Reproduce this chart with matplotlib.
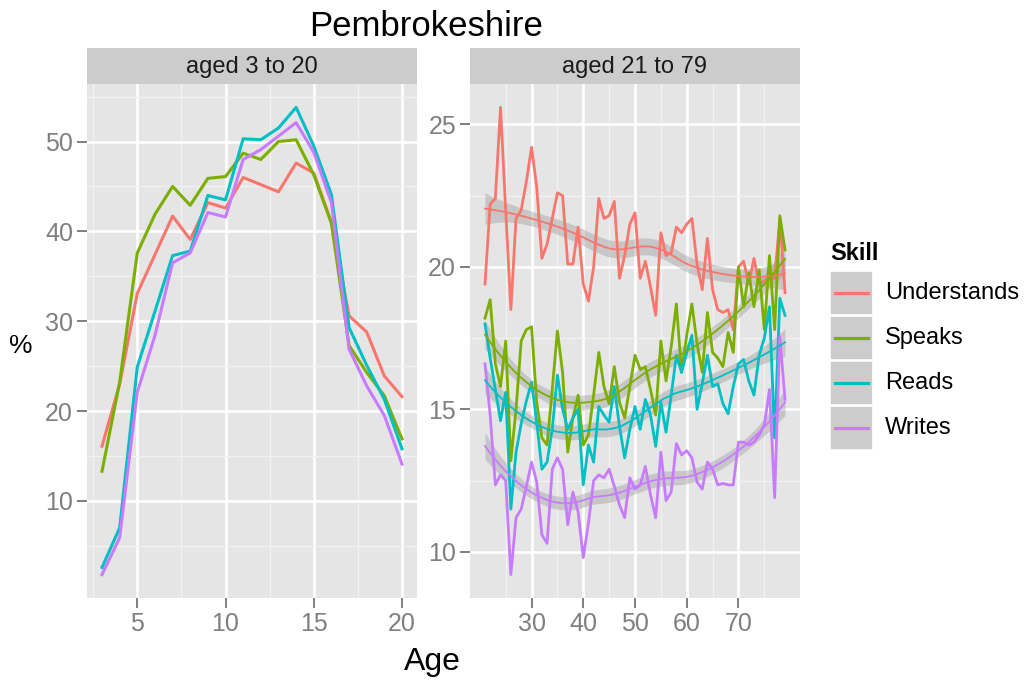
import numpy as np
import matplotlib.pyplot as plt
from matplotlib.patches import Rectangle

plt.rcParams['font.family'] = ['Liberation Sans', 'DejaVu Sans']

skills = ['Understands', 'Speaks', 'Reads', 'Writes']
colours = ['#F8766D', '#7CAE00', '#00BFC4', '#C77CFF']

# aged 3 to 20
young_ages = list(range(3, 21))
young_understands = [16.1, 23.0, 33.1, 37.4, 41.7, 39.1, 43.2, 42.6, 46.0,
                     45.2, 44.4, 47.6, 46.5, 41.0, 30.6, 28.8, 23.9, 21.6]
young_speaks = [13.3, 23.2, 37.6, 41.9, 45.0, 42.9, 45.9, 46.1, 48.7,
                48.0, 50.0, 50.2, 46.3, 40.9, 27.3, 24.3, 21.7, 16.9]
young_reads = [2.6, 7.0, 24.9, 31.1, 37.3, 37.8, 44.0, 43.5, 50.3,
               50.2, 51.5, 53.8, 49.5, 44.1, 29.3, 25.1, 21.3, 15.8]
young_writes = [1.8, 5.9, 22.1, 28.4, 36.5, 37.6, 42.1, 41.6, 48.0,
                49.1, 50.6, 52.1, 48.8, 43.2, 26.9, 22.8, 19.5, 14.1]

# aged 21 to 79
adult_ages = list(range(21, 80))
adult_understands = [19.4, 22.2, 22.4, 25.6, 22.0, 18.5, 21.7, 22.0, 23.0, 24.2,
                     22.8, 20.3, 20.8, 21.7, 22.6, 22.5, 20.1, 20.1, 21.4, 19.4,
                     18.8, 20.0, 22.4, 21.7, 21.8, 22.3, 19.6, 20.4, 21.5, 21.9,
                     19.6, 20.2, 19.3, 18.3, 21.2, 20.4, 20.5, 21.4, 21.2, 21.5,
                     21.7, 20.1, 19.2, 21.0, 19.2, 18.5, 18.4, 18.5, 17.8, 20.0,
                     20.2, 19.4, 20.3, 19.4, 19.5, 19.6, 19.6, 21.7, 19.1]
adult_speaks = [18.2, 18.85, 16.6, 15.8, 17.4, 13.2, 15.0, 17.4, 17.8, 17.9,
                15.25, 14.0, 13.75, 15.7, 17.75, 16.3, 13.5, 14.7, 15.5, 13.75,
                14.1, 15.5, 17.0, 15.8, 15.2, 16.5, 15.25, 14.7, 15.8, 16.9,
                16.4, 16.5, 15.7, 14.8, 17.4, 16.0, 17.2, 18.7, 16.3, 17.6,
                18.7, 17.3, 16.3, 18.4, 17.0, 16.8, 16.5, 17.7, 17.0, 20.0,
                18.6, 19.8, 18.6, 19.9, 17.8, 20.4, 17.8, 21.8, 20.6]
adult_reads = [18.0, 16.8, 15.7, 14.6, 15.6, 11.5, 13.5, 14.5, 15.3, 15.95,
               14.55, 12.9, 13.15, 14.3, 16.2, 15.0, 14.3, 14.7, 15.0, 12.35,
               13.75, 13.15, 15.1, 14.8, 14.55, 15.8, 14.4, 13.3, 14.3, 15.1,
               14.3, 15.35, 14.8, 13.7, 15.25, 14.2, 15.5, 16.9, 16.3, 17.0,
               17.6, 15.0, 15.9, 16.9, 15.8, 15.9, 15.2, 14.85, 15.8, 16.6,
               16.75, 16.0, 15.5, 16.9, 17.5, 18.6, 14.0, 18.9, 18.3]
adult_writes = [16.6, 14.8, 12.35, 12.7, 12.5, 9.2, 11.2, 11.5, 12.3, 13.15,
                12.45, 10.6, 10.3, 12.9, 13.3, 12.9, 10.95, 12.1, 11.4, 9.8,
                11.0, 12.5, 12.7, 12.6, 12.9, 12.3, 11.65, 11.2, 12.6, 12.2,
                12.35, 13.0, 12.0, 11.2, 13.5, 11.8, 12.1, 13.8, 13.4, 13.55,
                13.3, 12.45, 12.2, 13.15, 12.9, 12.35, 12.4, 12.35, 12.35, 13.85,
                13.85, 13.75, 13.85, 14.1, 14.45, 15.7, 11.9, 17.55, 15.35]

young = [young_understands, young_speaks, young_reads, young_writes]
adult = [adult_understands, adult_speaks, adult_reads, adult_writes]


def loess(x, y, x_new, span=0.75):
    # local quadratic fit with tricube weights, like geom_smooth's default
    x = np.asarray(x, float)
    y = np.asarray(y, float)
    n = len(x)
    q = int(np.floor(n * span))

    def rows(points):
        L = np.zeros((len(points), n))
        for i, x0 in enumerate(points):
            d = np.abs(x - x0)
            h = np.sort(d)[q - 1] * 1.0001
            w = np.clip(1 - (d / h) ** 3, 0, None) ** 3
            X = np.column_stack([np.ones(n), x - x0, (x - x0) ** 2])
            XtW = X.T * w
            L[i] = np.linalg.solve(XtW @ X, XtW)[0]
        return L

    L = rows(x)
    resid = y - L @ y
    M = np.eye(n) - L
    sigma = np.sqrt(resid @ resid / np.trace(M.T @ M))
    Ln = rows(x_new)
    return Ln @ y, sigma * np.sqrt((Ln ** 2).sum(axis=1))


W, H = 1027, 686
fig = plt.figure(figsize=(W / 100, H / 100), dpi=100)


def px_axes(x0, y0, x1, y1):
    return fig.add_axes([x0 / W, 1 - y1 / H, (x1 - x0) / W, (y1 - y0) / H])


def style(ax):
    ax.set_facecolor('#E5E5E5')
    for s in ax.spines.values():
        s.set_visible(False)
    ax.grid(True, which='major', color='white', linewidth=1.9)
    ax.grid(True, which='minor', color='#F2F2F2', linewidth=0.9)
    ax.set_axisbelow(True)
    ax.tick_params(which='major', length=7, width=1.4, color='#7F7F7F',
                   labelcolor='#7F7F7F', labelsize=18, pad=3)
    ax.tick_params(which='minor', length=0)


def strip(x0, x1, label):
    s = px_axes(x0, 48, x1, 84)
    s.set_facecolor('#CCCCCC')
    s.set_xticks([])
    s.set_yticks([])
    for sp in s.spines.values():
        sp.set_visible(False)
    s.text(0.5, 0.48, label, ha='center', va='center', fontsize=17,
           color='#1A1A1A', transform=s.transAxes)


# left panel
ax1 = px_axes(87, 84, 417, 598)
style(ax1)
for vals, c in zip(young, colours):
    ax1.plot(young_ages, vals, color=c, linewidth=2.2)
lo = min(min(v) for v in young)
hi = max(max(v) for v in young)
pad = (hi - lo) * 0.05
ax1.set_ylim(lo - pad, hi + pad)
ax1.set_xlim(3 - 0.85, 20 + 0.85)
ax1.set_xticks([5, 10, 15, 20])
ax1.set_xticks([2.5, 7.5, 12.5, 17.5], minor=True)
ax1.set_yticks([10, 20, 30, 40, 50])
ax1.set_yticks([5, 15, 25, 35, 45, 55], minor=True)
strip(87, 417, 'aged 3 to 20')

# right panel
ax2 = px_axes(470, 84, 800, 598)
style(ax2)
xs = np.linspace(21, 79, 80)
band = 0.85
ribbon_lo, ribbon_hi = [], []
for vals, c in zip(adult, colours):
    ax2.plot(adult_ages, vals, color=c, linewidth=2.0)
for vals, c in zip(adult, colours):
    fit, se = loess(adult_ages, vals, xs)
    ax2.fill_between(xs, fit - band * se, fit + band * se, color='#999999',
                     alpha=0.4, linewidth=0)
    ax2.plot(xs, fit, color=c, linewidth=1.3)
    ribbon_lo.append((fit - band * se).min())
    ribbon_hi.append((fit + band * se).max())
lo = min(min(min(v) for v in adult), min(ribbon_lo))
hi = max(max(max(v) for v in adult), max(ribbon_hi))
pad = (hi - lo) * 0.05
ax2.set_ylim(lo - pad, hi + pad)
ax2.set_xlim(21 - 2.9, 79 + 2.9)
ax2.set_xticks([30, 40, 50, 60, 70])
ax2.set_xticks([25, 35, 45, 55, 65, 75], minor=True)
ax2.set_yticks([10, 15, 20, 25])
ax2.set_yticks([12.5, 17.5, 22.5], minor=True)
strip(470, 800, 'aged 21 to 79')

# titles and axis labels
fig.text(426 / W, 1 - 27 / H, 'Pembrokeshire', ha='center', va='center',
         fontsize=25, color='black')
fig.text(432 / W, 1 - 662 / H, 'Age', ha='center', va='center',
         fontsize=23, color='black')
fig.text(21 / W, 1 - 346 / H, '%', ha='center', va='center',
         fontsize=19, color='black')

# legend
lg = fig.add_axes([0, 0, 1, 1], facecolor='none')
lg.set_xlim(0, W)
lg.set_ylim(H, 0)
lg.axis('off')
lg.text(830, 254, 'Skill', fontsize=17, fontweight='bold', va='center',
        ha='left', color='black')
for i, (name, c) in enumerate(zip(skills, colours)):
    top = 271 + i * 45
    lg.add_patch(Rectangle((830, top), 43, 44, facecolor='#CCCCCC',
                           edgecolor='white', linewidth=1.2))
    lg.plot([835, 868], [top + 22, top + 22], color=c, linewidth=2.3)
    lg.text(885, top + 22, name, fontsize=17, va='center', ha='left',
            color='black')

fig.savefig('out.png', dpi=100)
